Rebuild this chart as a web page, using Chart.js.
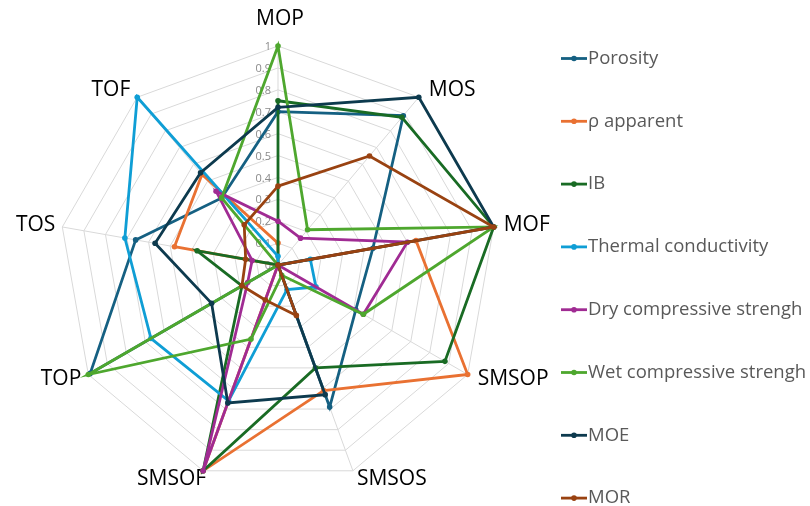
<!DOCTYPE html>
<html>
<head>
<meta charset="utf-8">
<script src="https://cdn.jsdelivr.net/npm/chart.js@4/dist/chart.umd.min.js"></script>
<style>
  html, body { margin: 0; padding: 0; background: #ffffff; }
  #wrap { position: relative; width: 810px; height: 506px; }
</style>
</head>
<body>
<div id="wrap"><canvas id="c"></canvas></div>
<script>
// ---- data ----
const categories = ['MOP', 'MOS', 'MOF', 'SMSOP', 'SMSOS', 'SMSOF', 'TOP', 'TOS', 'TOF'];
const seriesNames = ['Porosity', 'ρ apparent', 'IB', 'Thermal conductivity', 'Dry compressive strengh', 'Wet compressive strengh', 'MOE', 'MOR'];
const porosity   = [0.70, 0.89, 0.44, 0.41, 0.69, 0.00, 0.99, 0.66, 0.40];
const rhoApparent= [0.10, 0.00, 0.64, 1.00, 0.61, 1.00, 0.00, 0.48, 0.54];
const ib         = [0.75, 0.88, 1.00, 0.88, 0.50, 1.00, 0.19, 0.375, 0.00];
const thermal    = [0.04, 0.00, 0.15, 0.20, 0.12, 0.66, 0.67, 0.71, 1.00];
const dryComp    = [0.20, 0.16, 0.60, 0.45, 0.00, 1.00, 0.16, 0.12, 0.44];
const wetComp    = [1.00, 0.21, 1.00, 0.45, 0.05, 0.36, 1.00, 0.00, 0.40];
const moe        = [0.72, 1.00, 1.00, 0.00, 0.63, 0.67, 0.35, 0.57, 0.55];
const mor        = [0.36, 0.65, 1.00, 0.00, 0.245, 0.17, 0.19, 0.15, 0.24];
const tickValues = [0, 0.1, 0.2, 0.3, 0.4, 0.5, 0.6, 0.7, 0.8, 0.9, 1];
const tickLabels = ['0', '0.1', '0.2', '0.3', '0.4', '0.5', '0.6', '0.7', '0.8', '0.9', '1'];

const seriesValues = [porosity, rhoApparent, ib, thermal, dryComp, wetComp, moe, mor];
const colors = ['#156082', '#E97132', '#196B24', '#0F9ED5', '#A02B93', '#4EA72E', '#0D3A4E', '#994211'];

const FONT = '"Open Sans", "Liberation Sans", sans-serif';

const datasets = seriesNames.map((name, i) => ({
  label: name,
  data: seriesValues[i],
  borderColor: colors[i],
  backgroundColor: colors[i],
  pointBackgroundColor: colors[i],
  pointBorderColor: colors[i],
  borderWidth: 2.8,
  pointRadius: 2.8,
  pointBorderWidth: 0,
  fill: false,
  tension: 0,
  order: seriesNames.length - i
}));

// tick labels to the left of the vertical axis, and category labels outside the web
const axisTextPlugin = {
  id: 'axisText',
  beforeDatasetsDraw(chart) {
    const s = chart.scales.r;
    const ctx = chart.ctx;
    ctx.save();
    ctx.font = '11px ' + FONT;
    ctx.fillStyle = '#8a8a8a';
    ctx.textAlign = 'right';
    ctx.textBaseline = 'middle';
    tickValues.forEach((v, i) => {
      const d = s.getDistanceFromCenterForValue(v);
      ctx.fillText(tickLabels[i], s.xCenter - 7, s.yCenter - d + 1);
    });

    ctx.font = '21px ' + FONT;
    ctx.fillStyle = '#000000';
    const R = s.drawingArea;
    categories.forEach((label, i) => {
      const p = s.getPointPosition(i, R);
      const a = p.angle;
      const c = Math.cos(a), sn = Math.sin(a);
      let x, y;
      if (Math.abs(c) < 0.05) {
        ctx.textAlign = 'center';
        x = p.x + 2; y = p.y - 27;
      } else if (sn > 0.8) {
        ctx.textAlign = c > 0 ? 'left' : 'right';
        x = p.x + (c > 0 ? 4 : 3); y = p.y + 8;
      } else {
        ctx.textAlign = c > 0 ? 'left' : 'right';
        x = p.x + (c > 0 ? 10 : -7); y = p.y + 9 * sn;
      }
      ctx.fillText(label, x, y);
    });
    ctx.restore();
  }
};

const legendPlugin = {
  id: 'sideLegend',
  afterDraw(chart) {
    const ctx = chart.ctx;
    ctx.save();
    ctx.font = '18.5px ' + FONT;
    ctx.textBaseline = 'middle';
    ctx.textAlign = 'left';
    seriesNames.forEach((name, i) => {
      const y = 58.5 + i * 62.8;
      ctx.strokeStyle = colors[i];
      ctx.lineWidth = 2.8;
      ctx.beginPath();
      ctx.moveTo(561, y);
      ctx.lineTo(587, y);
      ctx.stroke();
      ctx.fillStyle = colors[i];
      ctx.beginPath();
      ctx.arc(574, y, 2.8, 0, Math.PI * 2);
      ctx.fill();
      ctx.fillStyle = '#595959';
      ctx.fillText(name, 588, y);
    });
    ctx.restore();
  }
};

new Chart(document.getElementById('c'), {
  type: 'radar',
  data: { labels: categories, datasets: datasets },
  options: {
    responsive: true,
    maintainAspectRatio: false,
    animation: false,
    layout: { padding: { left: 59, right: 313, top: 46, bottom: 22 } },
    plugins: { legend: { display: false }, tooltip: { enabled: false } },
    elements: { line: { tension: 0 } },
    scales: {
      r: {
        min: 0,
        max: 1,
        ticks: { stepSize: 0.1, display: false },
        grid: { color: '#d9d9d9', lineWidth: 1 },
        angleLines: { color: '#d9d9d9', lineWidth: 1 },
        pointLabels: { display: false }
      }
    }
  },
  plugins: [axisTextPlugin, legendPlugin]
});
</script>
</body>
</html>
